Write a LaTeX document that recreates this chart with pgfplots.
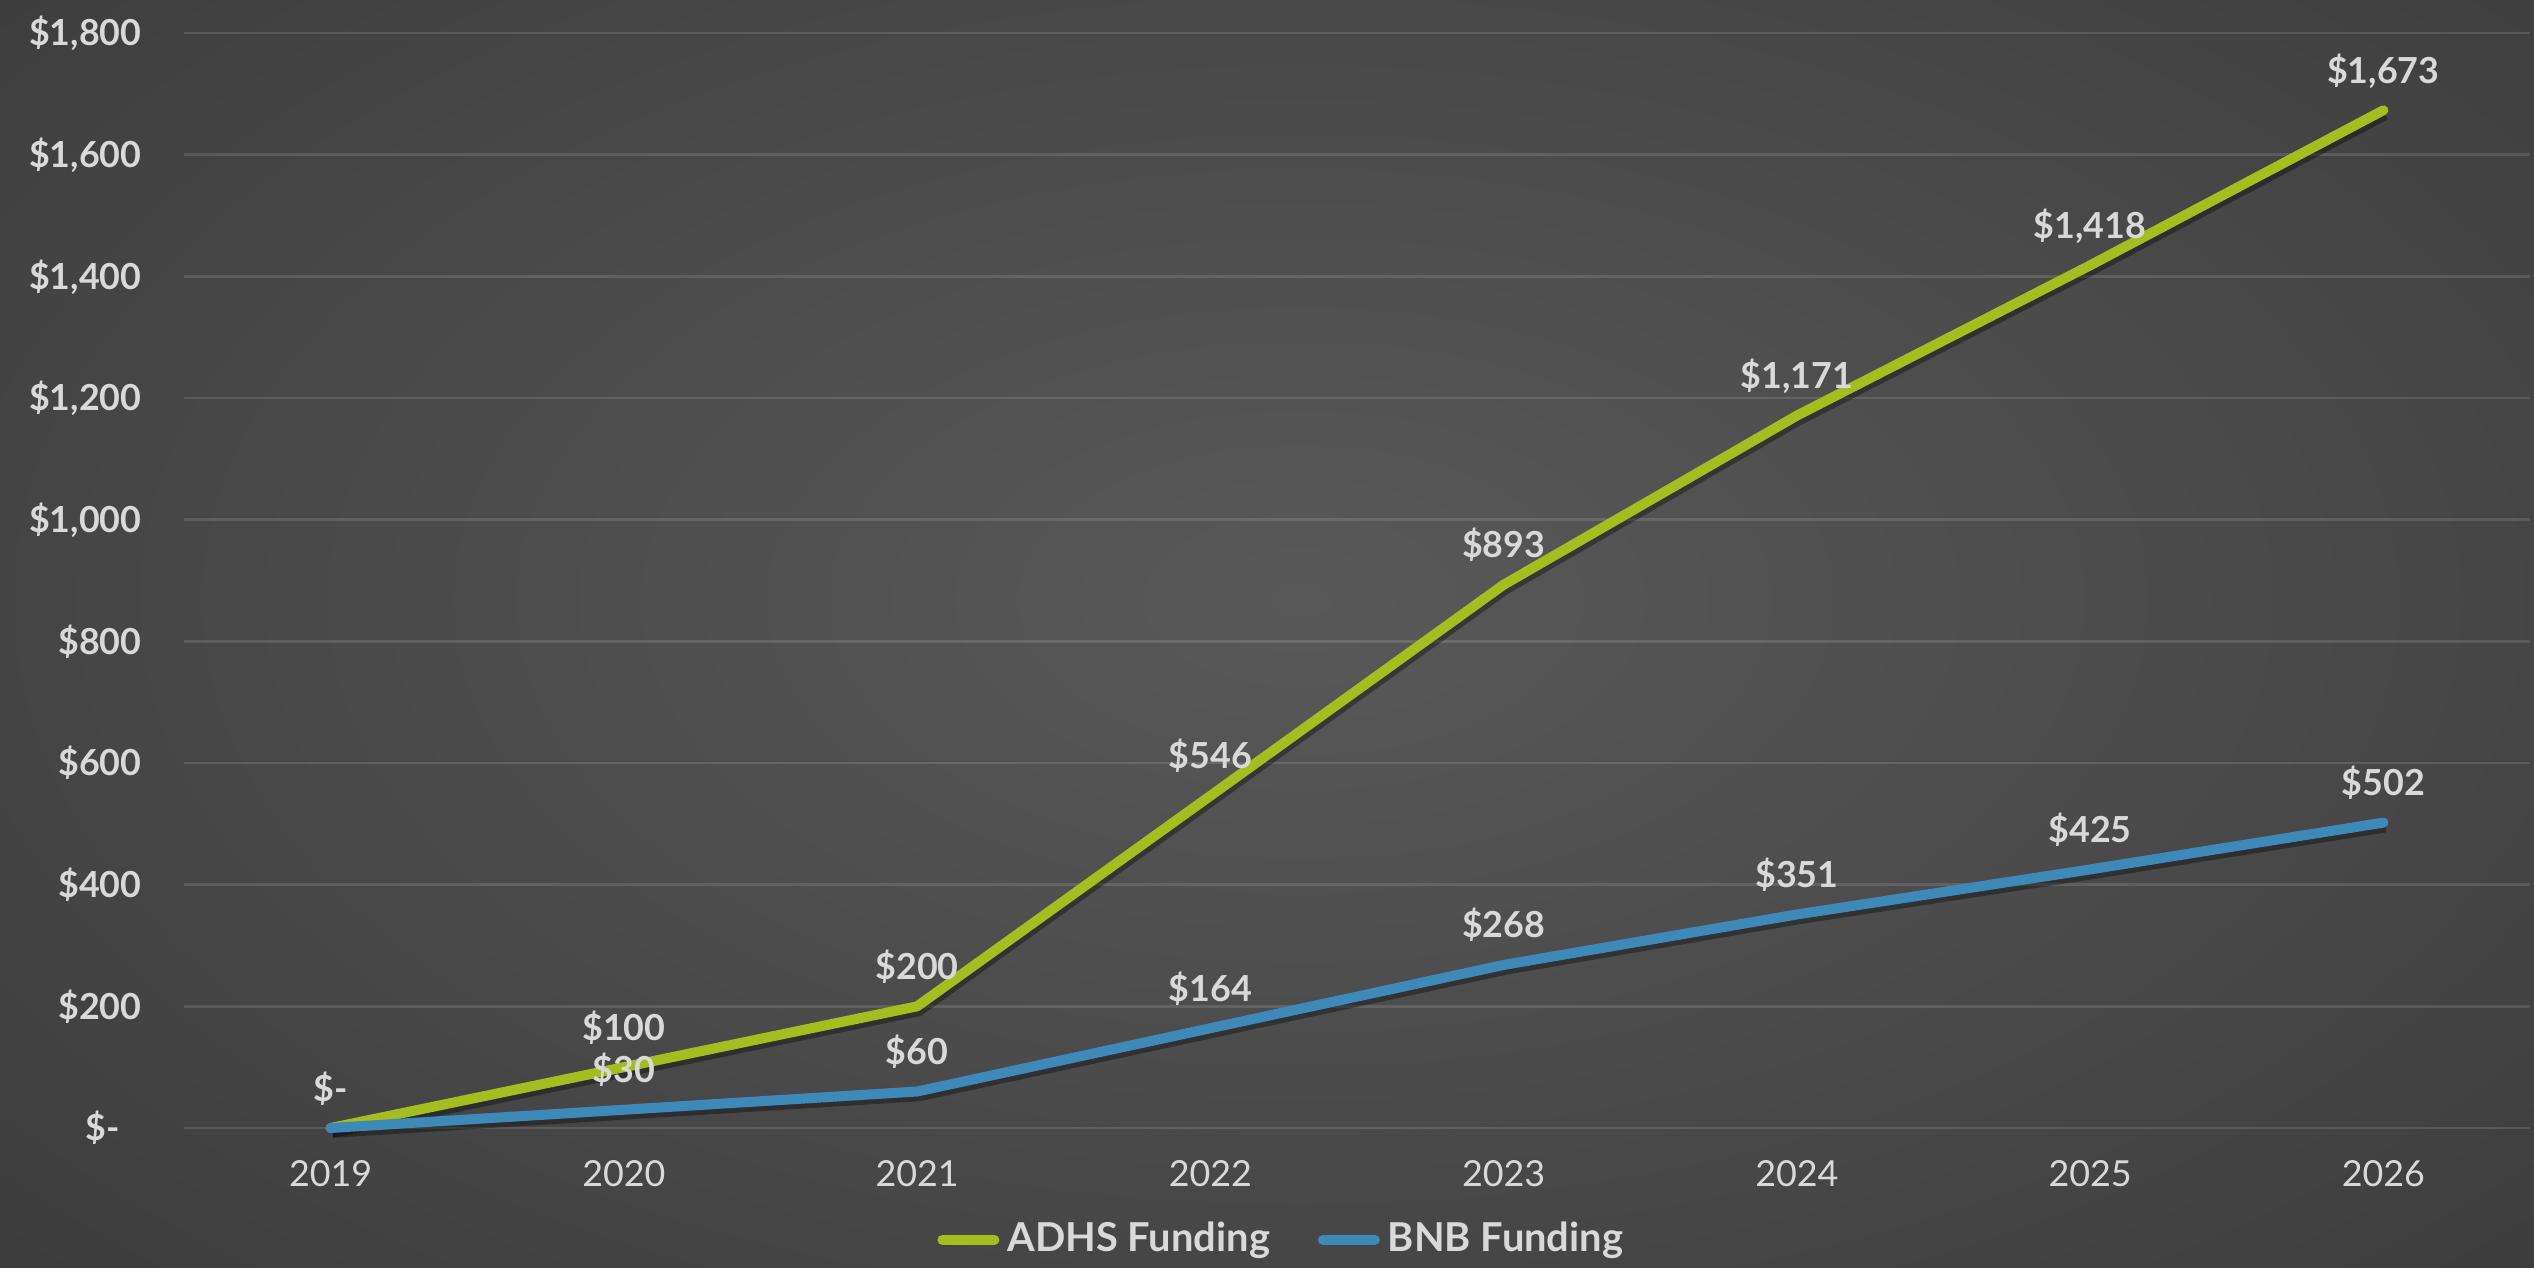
\documentclass[border=0pt]{standalone}
\usepackage{pgfplots}
\pgfplotsset{compat=1.18}
\usepackage{fontspec}
\setmainfont{Lato}
\definecolor{bgin}{HTML}{595959}
\definecolor{bgout}{HTML}{262626}
\definecolor{adhs}{HTML}{A5BE1F}
\definecolor{bnb}{HTML}{3D8AB9}
\definecolor{lbl}{HTML}{D9D9D9}
\pgfdeclareradialshading{bgshade}{\pgfpoint{0bp}{0bp}}{color(0bp)=(bgin); color(25bp)=(bgout); color(50bp)=(bgout)}
\begin{document}
\begin{tikzpicture}
\begin{scope}
\clip (0,0) rectangle (633.5bp,317bp);
\fill[bgout] (0,0) rectangle (633.5bp,317bp);
\shade[shading=bgshade] (325bp,167bp) ellipse (800bp and 440bp);
\end{scope}
\begin{axis}[
  at={(46bp,35bp)}, anchor=south west, scale only axis,
  width=586.5bp, height=273.75bp,
  xmin=-0.5, xmax=7.5, ymin=0, ymax=1800,
  clip=false,
  axis line style={draw=none},
  major tick length=0pt,
  ymajorgrids,
  grid style={white, opacity=0.12, line width=0.6bp},
  xtick={0,1,2,3,4,5,6,7},
  xticklabels={2019,2020,2021,2022,2023,2024,2025,2026},
  ytick={0,200,400,600,800,1000,1200,1400,1600,1800},
  yticklabels={\$-\kern5.5bp,\$200,\$400,\$600,\$800,\$1{,}000,\$1{,}200,\$1{,}400,\$1{,}600,\$1{,}800},
  xticklabel style={anchor=base, yshift=-14.5bp, font=\fontsize{9}{10}\selectfont, text=lbl},
  yticklabel style={anchor=base east, xshift=-7.1bp, yshift=-3.2bp, font=\fontsize{9}{10}\selectfont\bfseries, text=lbl},
  point meta=explicit symbolic,
  legend style={at={(0.469,-0.102)}, anchor=center, draw=none, fill=none,
    legend columns=2, font=\fontsize{10}{12}\selectfont\bfseries, text=lbl,
    /tikz/every even column/.append style={column sep=10bp}, inner sep=0pt},
  legend image code/.code={\draw[#1, line width=2.5bp, line cap=round] (0bp,0bp) -- (13bp,0bp);},
]
\addplot[black, opacity=0.35, line width=2.5bp, forget plot, transform canvas={yshift=-1.2bp, xshift=0.5bp}] coordinates {
 (0,0) (1,100) (2,200) (3,546) (4,893) (5,1171) (6,1418) (7,1673)};
\addplot[black, opacity=0.35, line width=2.5bp, forget plot, transform canvas={yshift=-1.2bp, xshift=0.5bp}] coordinates {
 (0,0) (1,30) (2,60) (3,164) (4,268) (5,351) (6,425) (7,502)};
\addplot[adhs, line width=2.5bp, line cap=round, line join=round,
  nodes near coords,
  every node near coord/.append style={anchor=base, yshift=6.75bp, font=\fontsize{9}{10}\selectfont\bfseries, text=lbl}]
 coordinates {
 (0,0) [\$-] (1,100) [\$100] (2,200) [\$200] (3,546) [\$546] (4,893) [\$893]
 (5,1171) [\$1{,}171] (6,1418) [\$1{,}418] (7,1673) [\$1{,}673]};
\addlegendentry{ADHS Funding}
\addplot[bnb, line width=2.5bp, line cap=round, line join=round,
  nodes near coords,
  every node near coord/.append style={anchor=base, yshift=6.75bp, font=\fontsize{9}{10}\selectfont\bfseries, text=lbl}]
 coordinates {
 (0,0) [] (1,30) [\$30] (2,60) [\$60] (3,164) [\$164] (4,268) [\$268]
 (5,351) [\$351] (6,425) [\$425] (7,502) [\$502]};
\addlegendentry{BNB Funding}
\end{axis}
\end{tikzpicture}
\end{document}
